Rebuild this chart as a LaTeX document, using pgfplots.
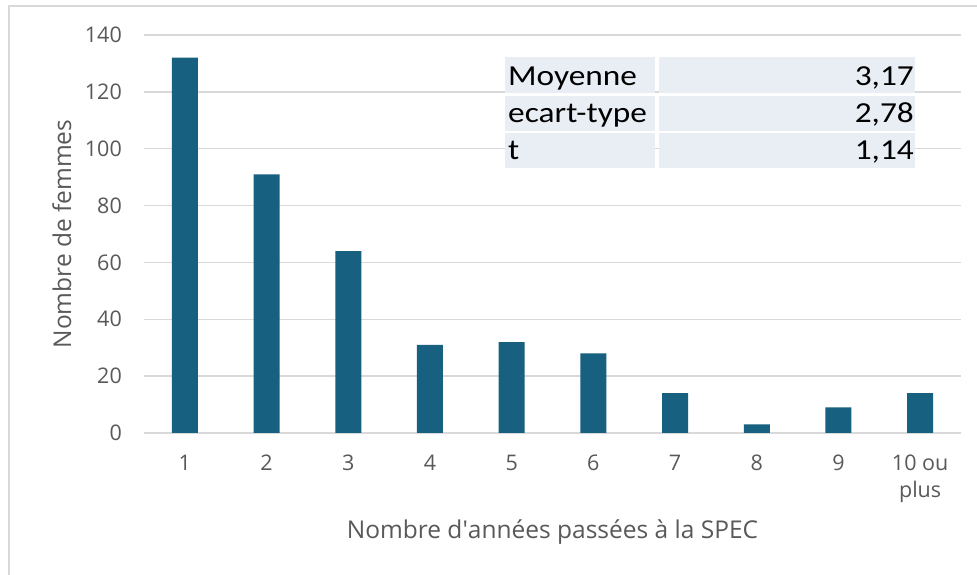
\documentclass[border=0pt]{standalone}
\usepackage{fontspec}
\setmainfont{Open Sans}
\newfontfamily\calib[FakeStretch=1.15]{Carlito}
\usepackage{pgfplots}
\pgfplotsset{compat=1.18}
\definecolor{barc}{RGB}{23,96,128}
\definecolor{gridc}{RGB}{217,217,217}
\definecolor{txtc}{RGB}{89,89,89}
\definecolor{tabc}{RGB}{233,237,244}
\definecolor{framec}{RGB}{217,217,217}
\begin{document}
\begin{tikzpicture}[x=1pt,y=1pt]
\path[use as bounding box] (0,0) rectangle (977,575);
\draw[framec,line width=1.5pt] (9,0) -- (9,569) -- (977,569);
\begin{axis}[
  at={(144pt,142pt)}, anchor=south west,
  scale only axis, width=817pt, height=398pt,
  xmin=0.5, xmax=10.5, ymin=0, ymax=140,
  ytick={0,20,...,140},
  xtick={1,...,10},
  xticklabels={1,2,3,4,5,6,7,8,9,{10 ou\\plus}},
  axis line style={draw=none},
  major tick length=0pt,
  ymajorgrids, grid style={gridc,line width=1.5pt},
  /pgf/number format/assume math mode=true,
  ticklabel style={font=\fontsize{21.5}{27}\selectfont, text=txtc},
  yticklabel style={inner sep=0pt, xshift=-22pt},
  xticklabel style={align=center, inner sep=0pt, anchor=north, yshift=-22pt},
  every axis x label/.style={at={(axis description cs:0.5,-0.2487)}, anchor=center},
  every axis y label/.style={at={(axis description cs:-0.1004,0.5)}, rotate=90, anchor=center},
  label style={font=\fontsize{24.5}{28}\selectfont, text=txtc},
  xlabel={Nombre d\textquotesingle années passées à la SPEC},
  ylabel={Nombre de femmes},
]
\addplot[ybar, bar width=26pt, fill=barc, draw=none] coordinates {
(1,132) (2,91) (3,64) (4,31) (5,32) (6,28) (7,14) (8,3) (9,9) (10,14)
};
\end{axis}
% statistics table
\fill[tabc] (505,575-93) rectangle (655,575-57);
\fill[tabc] (659,575-93) rectangle (915,575-57);
\fill[tabc] (505,575-131) rectangle (655,575-96);
\fill[tabc] (659,575-131) rectangle (915,575-96);
\fill[tabc] (505,575-168) rectangle (655,575-133);
\fill[tabc] (659,575-168) rectangle (915,575-133);
\begin{scope}[every node/.style={font=\calib\fontsize{29}{32}\selectfont, inner sep=0pt}]
\node[anchor=base west] at (508,575-86) {Moyenne};
\node[anchor=base east] at (914,575-86) {3,17};
\node[anchor=base west] at (508,575-123) {ecart-type};
\node[anchor=base east] at (914,575-123) {2,78};
\node[anchor=base west] at (508,575-160) {t};
\node[anchor=base east] at (914,575-160) {1,14};
\end{scope}
\end{tikzpicture}
\end{document}
